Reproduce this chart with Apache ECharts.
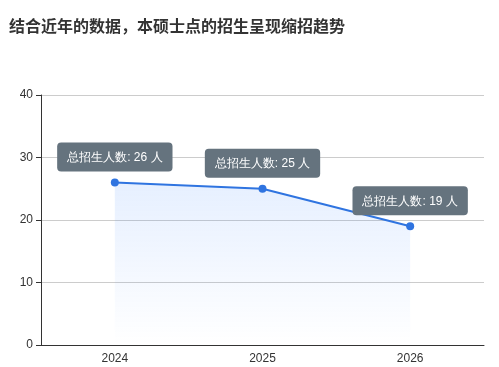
<!DOCTYPE html>
<html><head><meta charset="utf-8">
<script src="https://cdn.jsdelivr.net/npm/echarts@6/dist/echarts.min.js"></script>
<style>html,body{margin:0;padding:0;background:#fff}#c{width:499px;height:367px}</style>
</head><body><div id="c"></div>
<script>
var categories = ['2024', '2025', '2026'];
var enrollment = [26, 25, 19];
var yTicks = {min: 0, max: 40, interval: 10};

var chart = echarts.init(document.getElementById('c'));
chart.setOption({
  animation: false,
  title: {
    text: '结合近年的数据，本硕士点的招生呈现缩招趋势',
    left: 4, top: 13,
    textStyle: {fontSize: 16, fontWeight: 'bold', color: '#333', fontFamily: 'Noto Sans CJK SC'}
  },
  grid: {left: 41, right: 15, top: 95, bottom: 22},
  xAxis: {
    type: 'category', data: categories, boundaryGap: true,
    axisLine: {lineStyle: {color: '#333'}},
    axisTick: {lineStyle: {color: '#333'}},
    axisLabel: {color: '#333', fontSize: 12, margin: 8}
  },
  yAxis: {
    type: 'value', min: yTicks.min, max: yTicks.max, interval: yTicks.interval,
    axisLine: {show: true, lineStyle: {color: '#333'}},
    axisTick: {show: true, lineStyle: {color: '#333'}},
    axisLabel: {color: '#333', fontSize: 12},
    splitLine: {lineStyle: {color: '#ccc'}}
  },
  series: [{
    type: 'line', data: enrollment,
    symbol: 'circle', symbolSize: 8,
    itemStyle: {color: '#2f74e0'},
    lineStyle: {color: '#2f74e0', width: 2},
    areaStyle: {
      color: new echarts.graphic.LinearGradient(0, 0, 0, 1, [
        {offset: 0, color: 'rgba(58,132,255,0.18)'},
        {offset: 1, color: 'rgba(58,132,255,0)'}
      ])
    },
    label: {
      show: true, position: 'top', distance: 7,
      formatter: '总招生人数: {c} 人',
      color: '#fff', fontSize: 12,
      backgroundColor: '#65737e', borderRadius: 4,
      padding: [9, 10, 8, 10]
    }
  }]
});
</script></body></html>
